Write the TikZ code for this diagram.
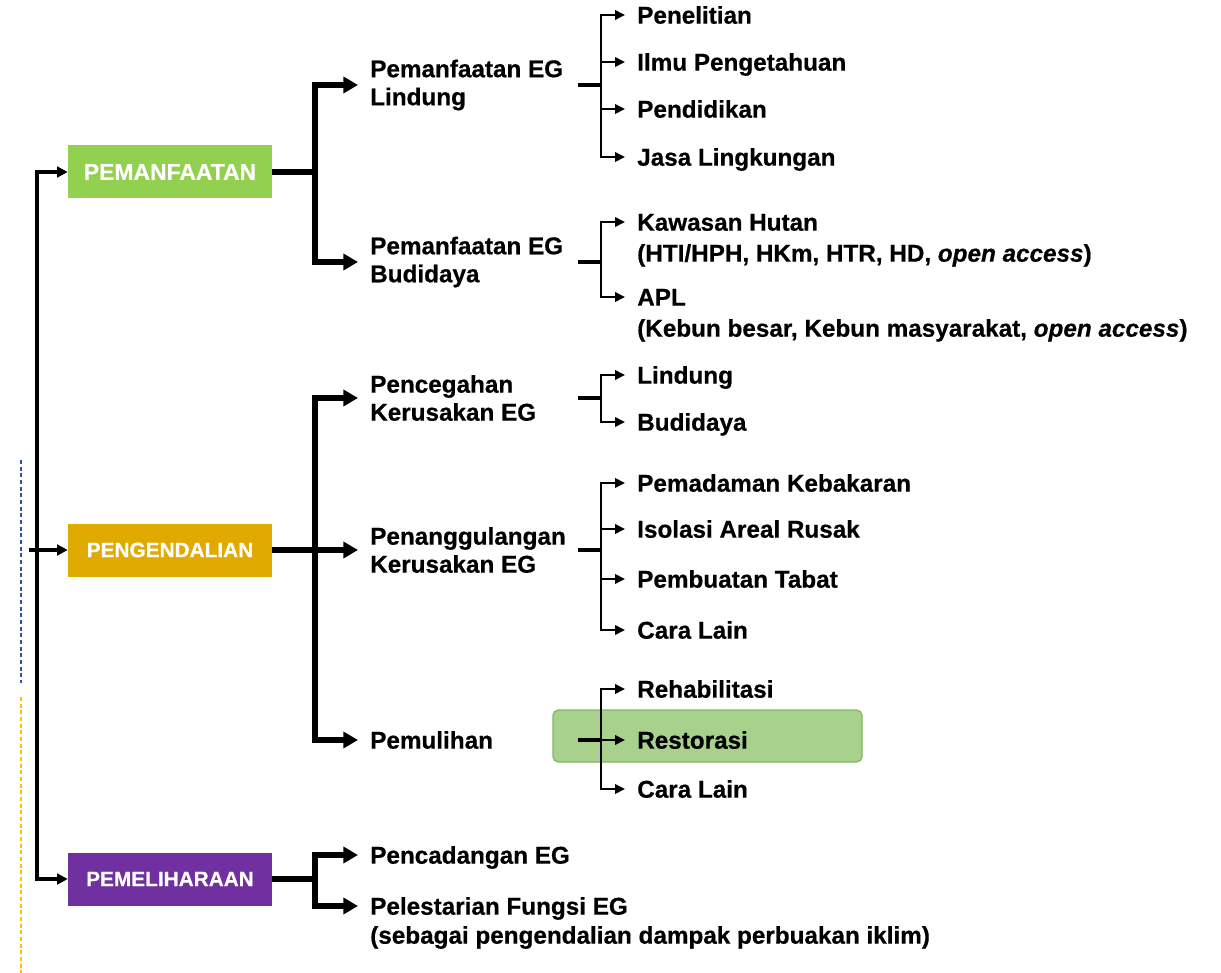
\documentclass[tikz,border=0pt]{standalone}
\usepackage{fontspec}
\setmainfont{Liberation Sans}[BoldFeatures={FakeBold=0.6},BoldItalicFeatures={FakeBold=0.6}]
\usetikzlibrary{arrows.meta}
\definecolor{cGreen}{RGB}{146,208,80}
\definecolor{cGold}{RGB}{224,170,0}
\definecolor{cPurple}{RGB}{112,48,160}
\definecolor{cHl}{RGB}{169,209,142}
\definecolor{cHlB}{RGB}{128,184,98}
\definecolor{cBlue}{RGB}{47,85,151}
\definecolor{cYel}{RGB}{255,192,0}
\begin{document}
\begin{tikzpicture}[x=0.75pt,y=-0.75pt,
  catbox/.style={fill=#1, minimum width=153pt, minimum height=39.75pt, inner sep=0pt,
    text=white, font=\fontsize{15.6}{18}\selectfont\bfseries},
  twoline/.style={anchor=west, align=left, inner xsep=9pt, inner ysep=0pt,
    font=\fontsize{18.2}{21}\selectfont\bfseries},
  oneline/.style={anchor=west, inner xsep=9pt, inner ysep=0pt, text height=13pt, text depth=0pt,
    font=\fontsize{18.2}{21}\selectfont\bfseries},
  leftln/.style={line width=2.5pt, -{Triangle[length=8pt,width=8pt]}},
  boxstub/.style={line width=5pt},
  bigarr/.style={line width=4pt, -{Triangle[length=11pt,width=12pt]}},
  smstub/.style={line width=2.6pt},
  smarr/.style={line width=1.9pt, -{Triangle[length=7.5pt,width=7pt]}},
  hlbox/.style={fill=cHl, draw=cHlB, line width=0.9pt, rounded corners=4pt},
  dashline/.style={line width=1.1pt, dash pattern=on 3pt off 2pt}
]
\useasboundingbox (0,0) rectangle (1221,973);

% side dashed marks
\draw[dashline, cBlue] (21,460) -- (21,683);
\draw[dashline, cYel] (21,697) -- (21,973);

% highlight behind Restorasi
\path[hlbox] (553,710) rectangle (862,762);

% category boxes
\node[catbox=cGreen, font=\fontsize{17.2}{20}\selectfont\bfseries] (pmn) at (170,172) {PEMANFAATAN};
\node[catbox=cGold] (pgd) at (170,550) {PENGENDALIAN};
\node[catbox=cPurple] (pml) at (170,879) {PEMELIHARAAN};

% level 2
\node[twoline] (pel) at (358,85) {Pemanfaatan EG\\Lindung};
\node[twoline] (peb) at (358,262) {Pemanfaatan EG\\Budidaya};
\node[twoline] (pcg) at (358,398) {Pencegahan\\Kerusakan EG};
\node[twoline] (pnl) at (358,550) {Penanggulangan\\Kerusakan EG};
\node[oneline] (pml2) at (358,740) {Pemulihan};
\node[oneline] (pcd) at (358,855) {Pencadangan EG};
\node[oneline] (pls) at (358,906) {Pelestarian Fungsi EG};
\node[oneline] (plsd) at (358,935) {(sebagai pengendalian dampak perbuakan iklim)};

% level 3
\node[oneline] (t1) at (625,15) {Penelitian};
\node[oneline] (t2) at (625,62) {Ilmu Pengetahuan};
\node[oneline] (t3) at (625,109) {Pendidikan};
\node[oneline] (t4) at (625,157) {Jasa Lingkungan};
\node[oneline] (t5) at (625,222) {Kawasan Hutan};
\node[oneline] (t5d) at (625,253) {(HTI/HPH, HKm, HTR, HD, \textit{open access})};
\node[oneline] (t6) at (625,297) {APL};
\node[oneline] (t6d) at (625,328) {(Kebun besar, Kebun masyarakat, \textit{open access})};
\node[oneline] (t7) at (625,375) {Lindung};
\node[oneline] (t8) at (625,422) {Budidaya};
\node[oneline] (t9) at (625,483) {Pemadaman Kebakaran};
\node[oneline] (t10) at (625,529) {Isolasi Areal Rusak};
\node[oneline] (t11) at (625,579) {Pembuatan Tabat};
\node[oneline] (t12) at (625,630) {Cara Lain};
\node[oneline] (t13) at (625,689) {Rehabilitasi};
\node[oneline] (t14) at (625,740) {Restorasi};
\node[oneline] (t15) at (625,789) {Cara Lain};

% left spine
\coordinate (jl) at (37,550);
\coordinate (jls) at (29,550);
\draw[leftln] (jl) |- (pmn.west);
\draw[leftln] (jl) |- (pml.west);
\draw[leftln] (jls) -- (pgd.west);

% thick branches
\coordinate (ja) at (315,172);
\coordinate (jb) at (315,550);
\coordinate (jc) at (315,879);
\draw[boxstub] (pmn.east) -- (ja);
\draw[boxstub] (pgd.east) -- (jb);
\draw[boxstub] (pml.east) -- (jc);
\draw[bigarr] (ja) |- (pel.west);
\draw[bigarr] (ja) |- (peb.west);
\draw[bigarr] (jb) |- (pcg.west);
\draw[bigarr] (jb) -- (pnl.west);
\draw[bigarr] (jb) |- (pml2.west);
\draw[bigarr] (jc) |- (pcd.west);
\draw[bigarr] (jc) |- (pls.west);

% thin branches
\coordinate (sa) at (578,85);  \coordinate (va) at (601,85);
\coordinate (sb) at (578,262); \coordinate (vb) at (601,262);
\coordinate (sc) at (578,398); \coordinate (vc) at (601,398);
\coordinate (sd) at (578,550); \coordinate (vd) at (601,550);
\coordinate (se) at (578,740); \coordinate (ve) at (601,740);
\draw[smstub] (sa) -- (va);
\draw[smstub] (sb) -- (vb);
\draw[smstub] (sc) -- (vc);
\draw[smstub] (sd) -- (vd);
\draw[smstub] (se) -- (ve);
\foreach \t in {t1,t2,t3,t4} \draw[smarr] (va) |- (\t.west);
\foreach \t in {t5,t6} \draw[smarr] (vb) |- (\t.west);
\foreach \t in {t7,t8} \draw[smarr] (vc) |- (\t.west);
\foreach \t in {t9,t10,t11,t12} \draw[smarr] (vd) |- (\t.west);
\foreach \t in {t13,t14,t15} \draw[smarr] (ve) |- (\t.west);
\end{tikzpicture}
\end{document}
